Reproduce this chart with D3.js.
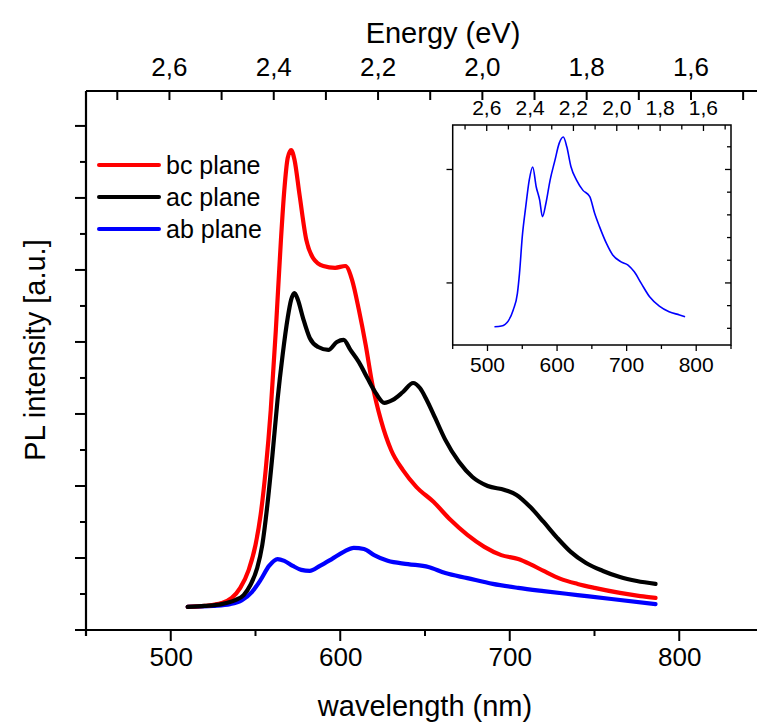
<!DOCTYPE html>
<html><head><meta charset="utf-8">
<script src="https://cdn.jsdelivr.net/npm/d3@7/dist/d3.min.js"></script>
<style>body{margin:0;background:#fff}svg{display:block;font-family:Arial,"Liberation Sans",sans-serif}</style>
</head><body><svg id="c" width="757" height="725"></svg>
<script>
// ---- data ----
const redWl = [510,520,530,536,541,546,550,553,556,559,562,565,567,569,571,573,576,580,584,590,597,603,607,611,615,619,624,630,637,645,655,665,675,685,695,705,712,720,730,740,750,765,777,786];
const redVal = [0.64,0.67,0.75,0.89,1.17,1.67,2.36,3.19,4.44,6.11,8.33,10.83,12.22,13.11,13.33,13.06,12.08,10.83,10.33,10.11,10.06,10.11,9.72,8.89,7.92,6.81,5.83,5.0,4.44,3.97,3.56,3.06,2.64,2.31,2.08,1.97,1.83,1.64,1.42,1.28,1.17,1.03,0.94,0.89];
const blackWl = [510,520,530,538,543,547,551,554,557,560,563,566,569,571,573,575,578,582,587,593,598,602,606,611,616,621,626,631,637,643,647,651,656,662,670,678,687,697,704,712,720,728,736,745,755,765,775,786];
const blackVal = [0.64,0.67,0.72,0.83,0.97,1.25,1.72,2.36,3.47,4.86,6.39,7.64,8.67,9.17,9.36,9.17,8.67,8.11,7.86,7.78,8.0,8.06,7.78,7.44,7.0,6.58,6.31,6.39,6.61,6.86,6.72,6.39,5.89,5.28,4.67,4.25,4.0,3.89,3.75,3.42,3.0,2.56,2.17,1.86,1.64,1.47,1.36,1.28];
const blueWl = [510,525,535,542,548,553,558,563,567,572,577,582,588,595,602,608,614,620,628,640,652,662,675,690,705,720,740,760,786];
const blueVal = [0.64,0.67,0.72,0.83,1.06,1.39,1.78,1.97,1.92,1.78,1.67,1.64,1.78,1.97,2.17,2.28,2.25,2.08,1.92,1.83,1.75,1.58,1.44,1.28,1.17,1.08,0.97,0.86,0.72];
const insetWl = [510,520,530,537,543,546,550,555,560,565,570,575,579,584,590,597,603,609,614,620,628,637,647,654,661,671,680,692,702,711,721,733,747,761,776,784];
const insetVal = [0.07,0.10,0.33,0.81,1.54,2.42,4.04,5.36,6.53,7.11,6.24,5.65,4.92,5.51,6.53,7.41,8.15,8.43,8.0,7.12,6.53,6.09,5.80,5.07,4.48,3.74,3.23,2.93,2.79,2.49,1.98,1.39,0.98,0.73,0.59,0.51];
const seriesNames = ["bc plane","ac plane","ab plane"];
const seriesColors = ["#ff0000","#000000","#0000ff"];
const wlTicks = [500,600,700,800];
const energyTicks = [2.6,2.4,2.2,2.0,1.8,1.6];
const fmtE = d => d3.format(".1f")(d).replace(".", ",");

const svg = d3.select("#c");
const W = 757;

// ---- main plot ----
const x = d3.scaleLinear().domain([450,850]).range([86,764]);
const xE = d3.scaleLinear().domain([2.76,1.46]).range([86,764]);
const y = d3.scaleLinear().domain([0,14.97]).range([630,91]);

const line = d3.line().x(d=>x(d[0])).y(d=>y(d[1])).curve(d3.curveMonotoneX);
const series = [
  d3.zip(redWl, redVal),
  d3.zip(blackWl, blackVal),
  d3.zip(blueWl, blueVal)
];
[2,0,1].forEach(i=>{
  svg.append("path").datum(series[i]).attr("d", line)
    .attr("fill","none").attr("stroke", seriesColors[i]).attr("stroke-width",4.2)
    .attr("stroke-linejoin","round").attr("stroke-linecap","round");
});

// bottom axis
const gB = svg.append("g").attr("transform","translate(0,630)");
gB.call(d3.axisBottom(x).tickValues(wlTicks).tickSize(0).tickPadding(18));
gB.select(".domain").attr("stroke-width",2.2).attr("d","M75,0H"+W);
gB.selectAll(".tick text").attr("font-size",26).attr("fill","#000").attr("font-family",null);
gB.selectAll(".tk").data(d3.range(450,851,50)).join("line").attr("class","tk")
  .attr("x1",d=>x(d)).attr("x2",d=>x(d)).attr("y1",0).attr("y2",d=>wlTicks.includes(d)?11:6)
  .attr("stroke","#000").attr("stroke-width",2);

// left axis
const gL = svg.append("g").attr("transform","translate(86,0)");
gL.append("line").attr("x1",0).attr("x2",0).attr("y1",91).attr("y2",636).attr("stroke","#000").attr("stroke-width",2.2);
gL.selectAll(".tk").data(d3.range(0,15,1)).join("line").attr("class","tk")
  .attr("x1",0).attr("x2",d=>d%2===0?-11:-6).attr("y1",d=>y(d)).attr("y2",d=>y(d))
  .attr("stroke","#000").attr("stroke-width",2);

// top axis
const gT = svg.append("g").attr("transform","translate(0,91)");
gT.append("line").attr("x1",86).attr("x2",W).attr("y1",0).attr("y2",0).attr("stroke","#000").attr("stroke-width",2.2);
const eTicksAll = d3.range(27,14,-1).map(v=>v/10);
gT.selectAll(".tk").data(eTicksAll).join("line").attr("class","tk")
  .attr("x1",d=>xE(d)).attr("x2",d=>xE(d)).attr("y1",0).attr("y2",9)
  .attr("stroke","#000").attr("stroke-width",2);
gT.selectAll(".lb").data(energyTicks).join("text").attr("class","lb")
  .attr("x",d=>xE(d)).attr("y",-15).attr("text-anchor","middle").attr("font-size",26).text(fmtE);

// titles
svg.append("text").attr("x",443).attr("y",43).attr("text-anchor","middle").attr("font-size",29).text("Energy (eV)");
svg.append("text").attr("x",425).attr("y",716).attr("text-anchor","middle").attr("font-size",29).text("wavelength (nm)");
svg.append("text").attr("transform","translate(45,350) rotate(-90)").attr("text-anchor","middle").attr("font-size",29).text("PL intensity [a.u.]");

// legend
const lg = svg.append("g");
seriesNames.forEach((n,i)=>{
  const yy = 165 + i*32;
  lg.append("line").attr("x1",99).attr("x2",159).attr("y1",yy).attr("y2",yy)
    .attr("stroke",seriesColors[i]).attr("stroke-width",4).attr("stroke-linecap","round");
  lg.append("text").attr("x",166).attr("y",yy+8.5).attr("font-size",25).text(n);
});

// ---- inset ----
const ix = d3.scaleLinear().domain([450,850]).range([452.7,731]);
const ixE = d3.scaleLinear().domain([2.757,1.473]).range([452.7,731]);
const iy = d3.scaleLinear().domain([-0.735,8.96]).range([345,125]);
const ig = svg.append("g");
ig.append("rect").attr("x",452.7).attr("y",125).attr("width",731-452.7).attr("height",220)
  .attr("fill","none").attr("stroke","#000").attr("stroke-width",1.5);
ig.selectAll(".bt").data(d3.range(450,851,50)).join("line").attr("class","bt")
  .attr("x1",d=>ix(d)).attr("x2",d=>ix(d)).attr("y1",345).attr("y2",d=>wlTicks.includes(d)?351:349)
  .attr("stroke","#000").attr("stroke-width",1.3);
ig.selectAll(".bl").data(wlTicks).join("text").attr("class","bl")
  .attr("x",d=>ix(d)).attr("y",372).attr("text-anchor","middle").attr("font-size",21).text(d=>d);
ig.selectAll(".tt").data(d3.range(27,14,-1).map(v=>v/10)).join("line").attr("class","tt")
  .attr("x1",d=>ixE(d)).attr("x2",d=>ixE(d)).attr("y1",125).attr("y2",d=>energyTicks.some(e=>Math.abs(e-d)<1e-9)?131:129.5)
  .attr("stroke","#000").attr("stroke-width",1.3);
ig.selectAll(".tl").data(energyTicks).join("text").attr("class","tl")
  .attr("x",d=>ixE(d)).attr("y",114.5).attr("text-anchor","middle").attr("font-size",21).text(fmtE);
ig.selectAll(".lt").data([2,7]).join("line").attr("class","lt")
  .attr("x1",452.7).attr("x2",446.5).attr("y1",d=>iy(d)).attr("y2",d=>iy(d))
  .attr("stroke","#000").attr("stroke-width",1.3);
ig.selectAll(".rt").data(d3.range(0,9)).join("line").attr("class","rt")
  .attr("x1",731).attr("x2",d=>(d===2||d===7)?725:727).attr("y1",d=>iy(d)).attr("y2",d=>iy(d))
  .attr("stroke","#000").attr("stroke-width",1.3);
const iline = d3.line().x(d=>ix(d[0])).y(d=>iy(d[1])).curve(d3.curveMonotoneX);
ig.append("path").datum(d3.zip(insetWl, insetVal)).attr("d", iline)
  .attr("fill","none").attr("stroke","#0000ff").attr("stroke-width",1.6).attr("stroke-linejoin","round");
</script></body></html>
